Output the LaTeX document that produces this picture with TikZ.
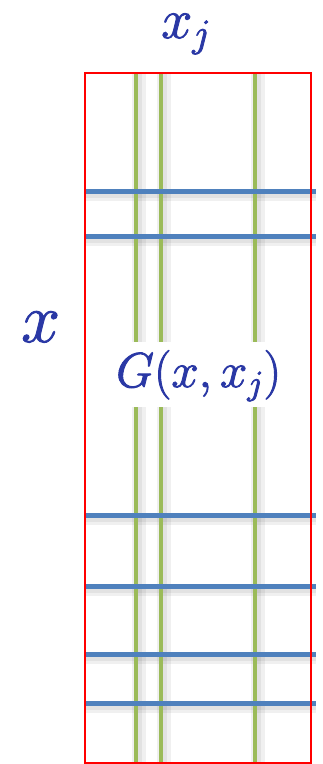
\documentclass[tikz,border=0pt]{standalone}
\usepackage{fix-cm}
\definecolor{gridblue}{RGB}{79,129,189}
\definecolor{gridgreen}{RGB}{155,187,89}
\definecolor{textblue}{RGB}{42,56,165}
\newcommand{\heavytext}[1]{\special{pdf:code 2 Tr 0.9 w}#1\special{pdf:code 0 Tr}}
\tikzset{
  vline/.style={draw=gridgreen, line width=4.5pt},
  hline/.style={draw=gridblue, line width=5pt},
  vshadow/.style={draw=black, opacity=0.06, line width=14pt},
  hshadow/.style={draw=black, opacity=0.06, line width=12pt},
  lbl/.style={inner sep=0pt, text=textblue, anchor=base west},
}
\begin{document}
\begin{tikzpicture}[x=1pt,y=-1pt]
\useasboundingbox (0,0) rectangle (322,764);
% soft shadows
\foreach \xx in {136,161,255} {
  \draw[vshadow] (\xx+3,73) -- (\xx+3,764);
  \draw[vshadow, line width=8pt] (\xx+2,73) -- (\xx+2,764);
}
\foreach \yy in {191,236,515,586,654,703} {
  \draw[hshadow] (86,\yy+4) -- (316,\yy+4);
  \draw[hshadow, line width=7pt] (86,\yy+3) -- (316,\yy+3);
}
% green vertical lines
\foreach \xx in {136,161,255} {
  \draw[vline] (\xx,73) -- (\xx,764);
}
% blue horizontal lines
\foreach \yy in {191,236,515,586,654,703} {
  \draw[hline] (86,\yy) -- (316,\yy);
}
% red frame
\draw[red, line width=1.5pt] (85,73) rectangle (311,763);
% labels
\node[lbl] (xj) at (161,38) {\fontsize{56}{60}\selectfont \heavytext{$x_j$}};
\node[lbl] (x) at (21,342) {\fontsize{70}{76}\selectfont \heavytext{$x$}};
\fill[white] (112,342) rectangle (293,407);
\node[lbl] (G) at (116,387) {\fontsize{49}{54}\selectfont \heavytext{$G(x,x_j)$}};
\end{tikzpicture}
\end{document}
